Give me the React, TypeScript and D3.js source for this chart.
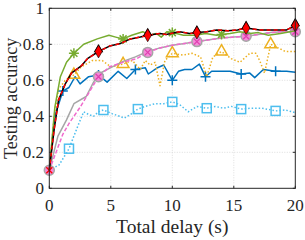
import React, { useEffect, useRef } from "react";
import * as d3 from "d3";

// time (s) and testing accuracy per curve
const T_LBLUE = [0, 0.8, 1.6, 2.4, 2.8, 3.2, 3.6, 4, 4.4, 5.1, 5.7, 6.1, 6.6, 7.2, 7.8, 8.6, 9.3, 10, 10.6, 11.3, 12, 12.8, 13.5, 14.15, 14.8, 15.6, 16.45, 17.3, 18.4, 19.2, 20];
const A_LBLUE = [0.1, 0.13, 0.22, 0.36, 0.425, 0.41, 0.4, 0.425, 0.435, 0.415, 0.4, 0.39, 0.41, 0.44, 0.455, 0.47, 0.47, 0.48, 0.465, 0.425, 0.455, 0.445, 0.455, 0.445, 0.455, 0.44, 0.445, 0.445, 0.43, 0.435, 0.42];
const M_LBLUE = [1.6, 4.4, 7.2, 10, 12.8, 15.6, 18.4];

const T_BLUE = [0, 0.45, 1.1, 1.6, 2.1, 2.5, 3.2, 4, 4.7, 5.6, 6.3, 7, 7.8, 8.05, 8.8, 9.3, 10, 10.5, 11, 11.6, 12.2, 12.7, 13.2, 13.9, 14.7, 15.6, 16.3, 16.7, 17.4, 18.4, 19.3, 20];
const A_BLUE = [0.1, 0.4, 0.54, 0.56, 0.62, 0.58, 0.62, 0.63, 0.59, 0.65, 0.61, 0.66, 0.67, 0.635, 0.67, 0.685, 0.6, 0.65, 0.66, 0.66, 0.69, 0.62, 0.65, 0.65, 0.65, 0.635, 0.64, 0.615, 0.66, 0.65, 0.65, 0.645];
const M_BLUE = [1.1, 4, 7, 10, 12.7, 15.6, 18.4];

const T_ORANGE = [0, 0.4, 0.75, 1.3, 2, 2.6, 3.5, 4.3, 5, 5.4, 6, 6.75, 7.4, 7.8, 8.2, 8.6, 9, 9.4, 10, 10.9, 11.6, 12.3, 12.8, 13.3, 14, 14.8, 15.5, 16.3, 16.8, 17.1, 17.5, 18, 18.6, 19.2, 20];
const A_ORANGE = [0.1, 0.4, 0.55, 0.6, 0.63, 0.675, 0.71, 0.71, 0.675, 0.68, 0.69, 0.71, 0.66, 0.71, 0.685, 0.7, 0.57, 0.71, 0.75, 0.74, 0.75, 0.73, 0.62, 0.73, 0.76, 0.72, 0.7, 0.75, 0.75, 0.71, 0.64, 0.8, 0.78, 0.76, 0.76];
const M_ORANGE = [2, 6, 10, 14, 18];

const T_GRAY = [0, 0.7, 1.4, 2, 3, 3.6, 4, 5, 6, 7, 8, 9, 10, 11, 12, 13, 14, 15, 16, 17, 18, 19, 20];
const A_GRAY = [0.1, 0.29, 0.38, 0.47, 0.51, 0.59, 0.635, 0.67, 0.705, 0.73, 0.76, 0.78, 0.795, 0.805, 0.815, 0.825, 0.835, 0.84, 0.845, 0.855, 0.865, 0.87, 0.87];

const T_PINK = [0, 1.1, 1.6, 2.5, 3.3, 4, 4.9, 6, 7.1, 8, 9, 10, 11, 12, 13, 14, 15, 16, 17, 18, 19, 20];
const A_PINK = [0.1, 0.3, 0.36, 0.45, 0.54, 0.62, 0.675, 0.7, 0.72, 0.755, 0.78, 0.795, 0.805, 0.815, 0.825, 0.835, 0.84, 0.845, 0.855, 0.865, 0.87, 0.87];
const M_PINK = [0, 4, 8, 12, 16, 20];

const T_GREEN = [0, 0.45, 0.9, 1.4, 2, 2.8, 3.9, 4.85, 5.4, 6, 6.7, 7.6, 8.2, 8.7, 9.1, 9.55, 10, 10.9, 11.85, 12.7, 13.6, 14, 14.7, 15.5, 16.3, 17, 17.8, 18.8, 20];
const A_GREEN = [0.1, 0.45, 0.62, 0.7, 0.75, 0.8, 0.83, 0.85, 0.84, 0.83, 0.85, 0.87, 0.85, 0.86, 0.84, 0.87, 0.865, 0.85, 0.85, 0.86, 0.85, 0.855, 0.86, 0.87, 0.86, 0.865, 0.85, 0.86, 0.875];
const M_GREEN = [2, 6, 10, 14, 18];

const T_BLACK = [0, 0.4, 0.75, 1.3, 1.8, 2.6, 3.1, 4, 4.9, 5.8, 6.6, 7.4, 8, 9, 9.5, 10.6, 11.4, 12, 12.8, 13.6, 14.5, 15.3, 16, 17.1, 18.5, 19.3, 20];
const A_BLACK = [0.1, 0.33, 0.49, 0.58, 0.64, 0.68, 0.72, 0.76, 0.79, 0.805, 0.83, 0.84, 0.85, 0.86, 0.855, 0.87, 0.86, 0.865, 0.87, 0.88, 0.875, 0.88, 0.89, 0.88, 0.88, 0.88, 0.905];
const M_BLACK = [4, 8, 12, 16, 20];

const X_TICKS = [0, 5, 10, 15, 20];
const Y_TICKS = [0, 0.2, 0.4, 0.6, 0.8, 1];

const W = 305, H = 240;
const M = { left: 49.3, right: 9.7, top: 8.3, bottom: 51.7 };
const FONT = "'Liberation Serif', 'Times New Roman', serif";

export default function App() {
  const ref = useRef<SVGSVGElement | null>(null);

  useEffect(() => {
    document.body.style.margin = "0";
    const svg = d3.select(ref.current);
    svg.selectAll("*").remove();

    const x = d3.scaleLinear().domain([0, 20]).range([M.left, W - M.right]);
    const y = d3.scaleLinear().domain([0, 1]).range([H - M.bottom, M.top]);
    const [x0, x1] = x.range();
    const [y0, y1] = y.range();

    // grid
    const grid = svg.append("g").attr("stroke", "#d4d4d4").attr("stroke-width", 0.8).attr("stroke-dasharray", "1,1.5");
    X_TICKS.slice(1, -1).forEach((t) => grid.append("line").attr("x1", x(t)).attr("x2", x(t)).attr("y1", y0).attr("y2", y1));
    Y_TICKS.slice(1, -1).forEach((t) => grid.append("line").attr("x1", x0).attr("x2", x1).attr("y1", y(t)).attr("y2", y(t)));

    const line = (ts: number[], as: number[]) =>
      d3.line<number>().x((_, i) => x(ts[i])).y((_, i) => y(as[i]))(ts) as string;

    const plotLine = (ts: number[], as: number[], color: string, dash?: string, w = 1.5) => {
      svg.append("path").attr("d", line(ts, as)).attr("fill", "none").attr("stroke", color)
        .attr("stroke-width", w).attr("stroke-dasharray", dash ?? null).attr("stroke-linejoin", "round");
    };
    const at = (ts: number[], as: number[], t: number) => [x(t), y(as[ts.indexOf(t)])];

    // light blue dotted, squares
    plotLine(T_LBLUE, A_LBLUE, "#4DBEEE", "1.5,2");
    M_LBLUE.forEach((t) => {
      const [px, py] = at(T_LBLUE, A_LBLUE, t);
      svg.append("rect").attr("x", px - 4.5).attr("y", py - 4.5).attr("width", 9).attr("height", 9)
        .attr("fill", "none").attr("stroke", "#4DBEEE").attr("stroke-width", 1.5);
    });

    // blue solid, plus
    plotLine(T_BLUE, A_BLUE, "#0072BD");
    M_BLUE.forEach((t) => {
      const [px, py] = at(T_BLUE, A_BLUE, t);
      svg.append("path").attr("d", `M${px - 5},${py}H${px + 5}M${px},${py - 5}V${py + 5}`)
        .attr("stroke", "#0072BD").attr("stroke-width", 1.5);
    });

    // orange dotted, triangles
    plotLine(T_ORANGE, A_ORANGE, "#EDB120", "1.5,2");
    const tri = d3.symbol().type(d3.symbolTriangle).size(60);
    M_ORANGE.forEach((t) => {
      const [px, py] = at(T_ORANGE, A_ORANGE, t);
      svg.append("path").attr("d", tri()).attr("transform", `translate(${px},${py})`)
        .attr("fill", "none").attr("stroke", "#EDB120").attr("stroke-width", 1.5);
    });

    // gray solid + pink dashed, circle + x
    plotLine(T_GRAY, A_GRAY, "#A6A6A6");
    plotLine(T_PINK, A_PINK, "#F06ACD", "4,2");
    M_PINK.forEach((t) => {
      const [px, py] = at(T_PINK, A_PINK, t);
      svg.append("circle").attr("cx", px).attr("cy", py).attr("r", 5)
        .attr("fill", "#F48AD8").attr("stroke", "#A6A6A6").attr("stroke-width", 1.5);
      svg.append("path").attr("d", `M${px - 3},${py - 3}L${px + 3},${py + 3}M${px - 3},${py + 3}L${px + 3},${py - 3}`)
        .attr("stroke", t === 0 ? "#FF0000" : "#E040B0").attr("stroke-width", 1.3);
    });

    // green solid, asterisks
    plotLine(T_GREEN, A_GREEN, "#77AC30");
    M_GREEN.forEach((t) => {
      const [px, py] = at(T_GREEN, A_GREEN, t);
      const r = 5, d = r * 0.7;
      svg.append("path")
        .attr("d", `M${px - r},${py}H${px + r}M${px},${py - r}V${py + r}M${px - d},${py - d}L${px + d},${py + d}M${px - d},${py + d}L${px + d},${py - d}`)
        .attr("stroke", "#77AC30").attr("stroke-width", 1.5);
    });

    // black solid + red dashed, diamonds
    plotLine(T_BLACK, A_BLACK, "#000000");
    plotLine(T_BLACK, A_BLACK, "#FF0000", "4,3");
    const dia = d3.symbol().type(d3.symbolDiamond).size(48);
    M_BLACK.forEach((t) => {
      const [px, py] = at(T_BLACK, A_BLACK, t);
      svg.append("path").attr("d", d3.symbol().type(d3.symbolTriangle).size(40)())
        .attr("transform", `translate(${px},${py - 2})`).attr("fill", "#000");
      svg.append("path").attr("d", dia()).attr("transform", `translate(${px},${py})`)
        .attr("fill", "#FF0000").attr("stroke", "#000").attr("stroke-width", 0.6);
    });

    // box and ticks (inward, all sides)
    const ax = svg.append("g").attr("stroke", "#262626").attr("stroke-width", 1);
    ax.append("rect").attr("x", x0).attr("y", y1).attr("width", x1 - x0).attr("height", y0 - y1).attr("fill", "none");
    X_TICKS.forEach((t) => {
      ax.append("line").attr("x1", x(t)).attr("x2", x(t)).attr("y1", y0).attr("y2", y0 - 2.5);
      ax.append("line").attr("x1", x(t)).attr("x2", x(t)).attr("y1", y1).attr("y2", y1 + 2.5);
    });
    Y_TICKS.forEach((t) => {
      ax.append("line").attr("x1", x0).attr("x2", x0 + 2.5).attr("y1", y(t)).attr("y2", y(t));
      ax.append("line").attr("x1", x1).attr("x2", x1 - 2.5).attr("y1", y(t)).attr("y2", y(t));
    });

    const txt = svg.append("g").attr("font-family", FONT).attr("fill", "#262626");
    X_TICKS.forEach((t) => txt.append("text").attr("x", x(t)).attr("y", 210.5).attr("font-size", 17).attr("text-anchor", "middle").text(String(t)));
    Y_TICKS.forEach((t) => txt.append("text").attr("x", 44).attr("y", y(t)).attr("dy", "0.33em").attr("font-size", 17).attr("text-anchor", "end").text(String(t)));
    txt.append("text").attr("x", (x0 + x1) / 2).attr("y", 233).attr("font-size", 19.5).attr("text-anchor", "middle").text("Total delay (s)");
    txt.append("text").attr("transform", `translate(17,${(y0 + y1) / 2}) rotate(-90)`).attr("font-size", 18).attr("text-anchor", "middle").text("Testing accuracy");
  }, []);

  return <svg ref={ref} width={W} height={H} style={{ display: "block", background: "#fff" }} />;
}
